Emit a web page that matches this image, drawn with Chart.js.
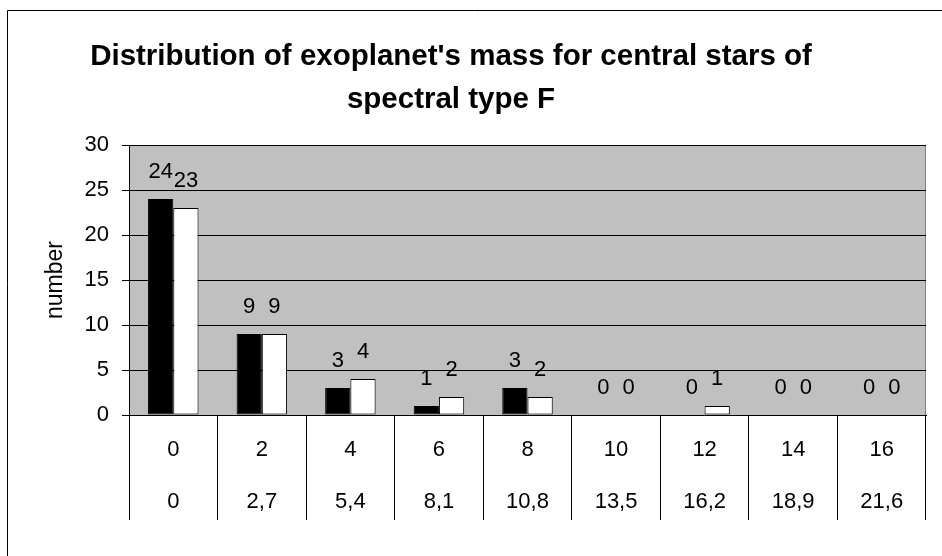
<!DOCTYPE html>
<html>
<head>
<meta charset="utf-8">
<script src="https://cdn.jsdelivr.net/npm/chart.js@4"></script>
<style>
  html, body { margin: 0; padding: 0; background: #fff; }
  #wrap { width: 942px; height: 556px; }
</style>
</head>
<body>
<div id="wrap"><canvas id="massChart" width="942" height="556"></canvas></div>
<script>
// x-axis: two rows of tick labels per bin
let massRowA = ['0', '2', '4', '6', '8', '10', '12', '14', '16'];
let massRowB = ['0', '2,7', '5,4', '8,1', '10,8', '13,5', '16,2', '18,9', '21,6'];
// counts per bin
let seriesBlack = [24, 9, 3, 1, 3, 0, 0, 0, 0];
let seriesWhite = [23, 9, 4, 2, 2, 0, 1, 0, 0];
let titleLines = ["Distribution of exoplanet's mass for central stars of", 'spectral type F'];

let labels = massRowA.map(function (a, i) { return [a, massRowB[i]]; });
let fontFamily = '"Liberation Sans", Arial, sans-serif';

let frame = {
    id: 'frame',
    beforeDraw: function (chart) {
        let ctx = chart.ctx;
        let a = chart.chartArea;
        ctx.save();
        ctx.fillStyle = '#fff';
        ctx.fillRect(0, 0, chart.width, chart.height);
        // outer border (only top/left visible)
        ctx.strokeStyle = '#000';
        ctx.lineWidth = 1;
        ctx.beginPath();
        ctx.moveTo(7.5, chart.height);
        ctx.lineTo(7.5, 10.5);
        ctx.lineTo(chart.width, 10.5);
        ctx.stroke();
        // plot area
        ctx.fillStyle = '#c0c0c0';
        ctx.fillRect(a.left, a.top, a.right - a.left, a.bottom - a.top);
        ctx.strokeStyle = '#808080';
        ctx.beginPath();
        ctx.moveTo(Math.round(a.right) - 0.5, a.top);
        ctx.lineTo(Math.round(a.right) - 0.5, a.bottom);
        ctx.stroke();
        // title
        ctx.fillStyle = '#000';
        ctx.font = 'bold 29.5px ' + fontFamily;
        ctx.textAlign = 'center';
        ctx.textBaseline = 'alphabetic';
        ctx.fillText(titleLines[0], 451, 65);
        ctx.fillText(titleLines[1], 451, 108);
        ctx.restore();
    }
};

let valueLabels = {
    id: 'valueLabels',
    afterDatasetsDraw: function (chart) {
        let ctx = chart.ctx;
        ctx.save();
        ctx.fillStyle = '#000';
        ctx.font = '22px ' + fontFamily;
        ctx.textAlign = 'center';
        ctx.textBaseline = 'alphabetic';
        chart.data.datasets.forEach(function (ds, i) {
            chart.getDatasetMeta(i).data.forEach(function (bar, j) {
                ctx.fillText(String(ds.data[j]), bar.x, bar.y - 21);
            });
        });
        ctx.restore();
    }
};

let ctx = document.getElementById('massChart').getContext('2d');
new Chart(ctx, {
    type: 'bar',
    data: {
        labels: labels,
        datasets: [{
            data: seriesBlack,
            backgroundColor: '#000',
            borderColor: '#000',
            borderWidth: 1,
            borderSkipped: false
        }, {
            data: seriesWhite,
            backgroundColor: '#fff',
            borderColor: '#000',
            borderWidth: 1,
            borderSkipped: false
        }]
    },
    options: {
        responsive: false,
        animation: false,
        categoryPercentage: 0.57,
        barPercentage: 1.0,
        layout: { padding: { top: 145, right: 16, left: 0, bottom: 0 } },
        plugins: {
            legend: { display: false },
            title: { display: false },
            tooltip: { enabled: false }
        },
        scales: {
            x: {
                afterFit: function (s) { s.height = 141; },
                border: { display: true, color: '#000', width: 1 },
                grid: {
                    offset: true,
                    drawOnChartArea: false,
                    drawTicks: true,
                    tickLength: 105,
                    color: '#000'
                },
                ticks: {
                    autoSkip: false,
                    maxRotation: 0,
                    padding: -96,
                    color: '#000',
                    font: { family: fontFamily, size: 22, lineHeight: '52px' }
                }
            },
            y: {
                min: 0,
                max: 30,
                afterFit: function (s) { s.width = 129; },
                border: { display: true, color: '#000', width: 1 },
                grid: {
                    color: '#000',
                    drawTicks: true,
                    tickLength: 7
                },
                ticks: {
                    stepSize: 5,
                    padding: 13,
                    color: '#000',
                    font: { family: fontFamily, size: 22 }
                },
                title: {
                    display: true,
                    text: 'number',
                    color: '#000',
                    padding: { top: 42, bottom: 0 },
                    font: { family: fontFamily, size: 23 }
                }
            }
        }
    },
    plugins: [frame, valueLabels]
});
</script>
</body>
</html>
